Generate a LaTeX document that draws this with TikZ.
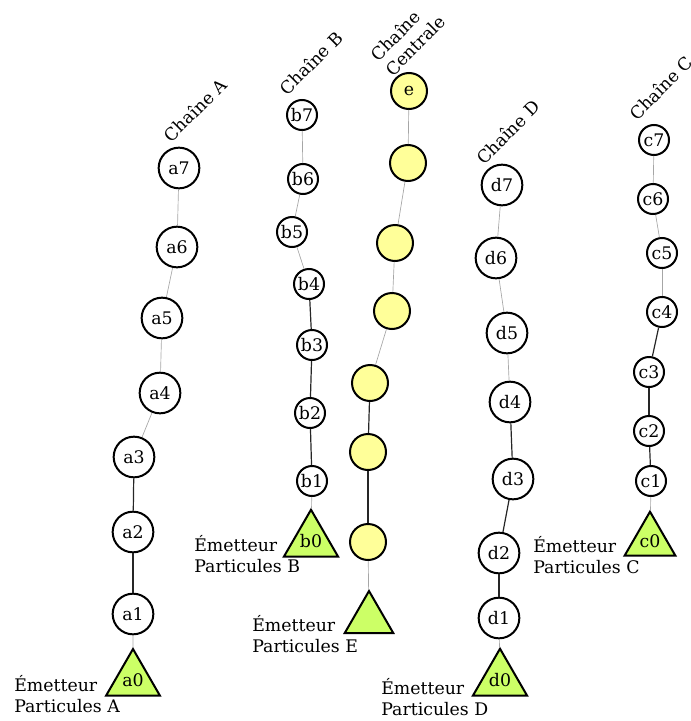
\documentclass[tikz,border=0pt]{standalone}
\usepackage{fontspec}
\setmainfont{DejaVu Serif}
\usetikzlibrary{shapes.geometric}
\definecolor{nodeyellow}{HTML}{FFFF99}
\definecolor{emgreen}{HTML}{CCFF66}
\newcommand{\dfont}{\fontsize{13}{15.75}\selectfont}
\begin{document}
\begin{tikzpicture}[x=0.75pt,y=-0.75pt,
  every node/.style={font=\dfont},
  bignode/.style={circle,draw,line width=1.5pt,minimum size=30.5pt,inner sep=0pt,fill=white},
  smallnode/.style={circle,draw,line width=1.5pt,minimum size=22.5pt,inner sep=0pt,fill=white},
  cennode/.style={circle,draw,line width=1.5pt,minimum size=27pt,inner sep=0pt,fill=nodeyellow},
  emitbig/.style={regular polygon,regular polygon sides=3,draw,line width=1.5pt,fill=emgreen,inner sep=0pt,minimum size=46.5pt},
  emitsmall/.style={regular polygon,regular polygon sides=3,draw,line width=1.5pt,fill=emgreen,inner sep=0pt,minimum size=36pt},
  emitmid/.style={regular polygon,regular polygon sides=3,draw,line width=1.5pt,fill=emgreen,inner sep=0pt,minimum size=42pt},
  lite/.style={draw=gray!70,line width=0.5pt},
  dark/.style={draw=black!85,line width=0.9pt},
  chainlbl/.style={rotate=45,inner sep=0pt,align=left},
  emitlbl/.style={anchor=west,inner sep=0pt,align=left}]
\useasboundingbox (0,0) rectangle (690,721);

% Chain A
\node[bignode] (a7) at (179,168) {a7};
\node[bignode] (a6) at (177,247) {a6};
\node[bignode] (a5) at (162,318) {a5};
\node[bignode] (a4) at (160,393) {a4};
\node[bignode] (a3) at (134,457) {a3};
\node[bignode] (a2) at (133,532) {a2};
\node[bignode] (a1) at (133,614) {a1};
\node[emitbig] (a0) at (133,680) {a0};

% Chain B
\node[smallnode] (b7) at (302,115) {b7};
\node[smallnode] (b6) at (303,179) {b6};
\node[smallnode] (b5) at (292,232) {b5};
\node[smallnode] (b4) at (309,284) {b4};
\node[smallnode] (b3) at (312,345) {b3};
\node[smallnode] (b2) at (310,413) {b2};
\node[smallnode] (b1) at (312,481) {b1};
\node[emitsmall] (b0) at (311,541) {b0};

% Central chain
\node[cennode] (e) at (409,91) {e};
\node[cennode] (e2) at (408,163) {};
\node[cennode] (e3) at (395,243) {};
\node[cennode] (e4) at (392,311) {};
\node[cennode] (e5) at (370,383) {};
\node[cennode] (e6) at (368,452) {};
\node[cennode] (e7) at (368,542) {};
\node[emitmid] (e0) at (369,619) {};

% Chain D
\node[bignode] (d7) at (502,185) {d7};
\node[bignode] (d6) at (496,258) {d6};
\node[bignode] (d5) at (507,333) {d5};
\node[bignode] (d4) at (510,402) {d4};
\node[bignode] (d3) at (513,479) {d3};
\node[bignode] (d2) at (499,553) {d2};
\node[bignode] (d1) at (499,618) {d1};
\node[emitbig] (d0) at (500,680) {d0};

% Chain C
\node[smallnode] (c7) at (654,140) {c7};
\node[smallnode] (c6) at (653,199) {c6};
\node[smallnode] (c5) at (662,253) {c5};
\node[smallnode] (c4) at (662,312) {c4};
\node[smallnode] (c3) at (649,372) {c3};
\node[smallnode] (c2) at (649,431) {c2};
\node[smallnode] (c1) at (651,481) {c1};
\node[emitsmall] (c0) at (650,541) {c0};

% Edges
\draw[lite] (a7) -- (a6); \draw[lite] (a6) -- (a5); \draw[lite] (a5) -- (a4);
\draw[lite] (a4) -- (a3); \draw[dark] (a3) -- (a2); \draw[dark] (a2) -- (a1);
\draw[lite] (a1) -- (a0);

\draw[lite] (b7) -- (b6); \draw[lite] (b6) -- (b5); \draw[lite] (b5) -- (b4);
\draw[dark] (b4) -- (b3); \draw[dark] (b3) -- (b2); \draw[dark] (b2) -- (b1);
\draw[lite] (b1) -- (b0);

\draw[lite] (e) -- (e2); \draw[lite] (e2) -- (e3); \draw[lite] (e3) -- (e4);
\draw[lite] (e4) -- (e5); \draw[dark] (e5) -- (e6); \draw[dark] (e6) -- (e7);
\draw[lite] (e7) -- (e0);

\draw[lite] (d7) -- (d6); \draw[lite] (d6) -- (d5); \draw[lite] (d5) -- (d4);
\draw[dark] (d4) -- (d3); \draw[dark] (d3) -- (d2); \draw[dark] (d2) -- (d1);
\draw[lite] (d1) -- (d0);

\draw[lite] (c7) -- (c6); \draw[lite] (c6) -- (c5); \draw[lite] (c5) -- (c4);
\draw[dark] (c4) -- (c3); \draw[dark] (c3) -- (c2); \draw[dark] (c2) -- (c1);
\draw[lite] (c1) -- (c0);

% Chain labels
\node[chainlbl] (la) at (195,110) {Chaîne A};
\node[chainlbl] (lb) at (311,63) {Chaîne B};
\node[chainlbl] (le) at (408,38) {Chaîne\\Centrale};
\node[chainlbl] (ld) at (508,132) {Chaîne D};
\node[chainlbl] (lc) at (661,88) {Chaîne C};

% Emitter labels
\node[emitlbl] (ea) at (14,694) {Émetteur\\Particules A};
\node[emitlbl] (eb) at (194,554) {Émetteur\\Particules B};
\node[emitlbl] (ee) at (252,634) {Émetteur\\Particules E};
\node[emitlbl] (ed) at (381,697) {Émetteur\\Particules D};
\node[emitlbl] (ec) at (533,555) {Émetteur\\Particules C};
\end{tikzpicture}
\end{document}
